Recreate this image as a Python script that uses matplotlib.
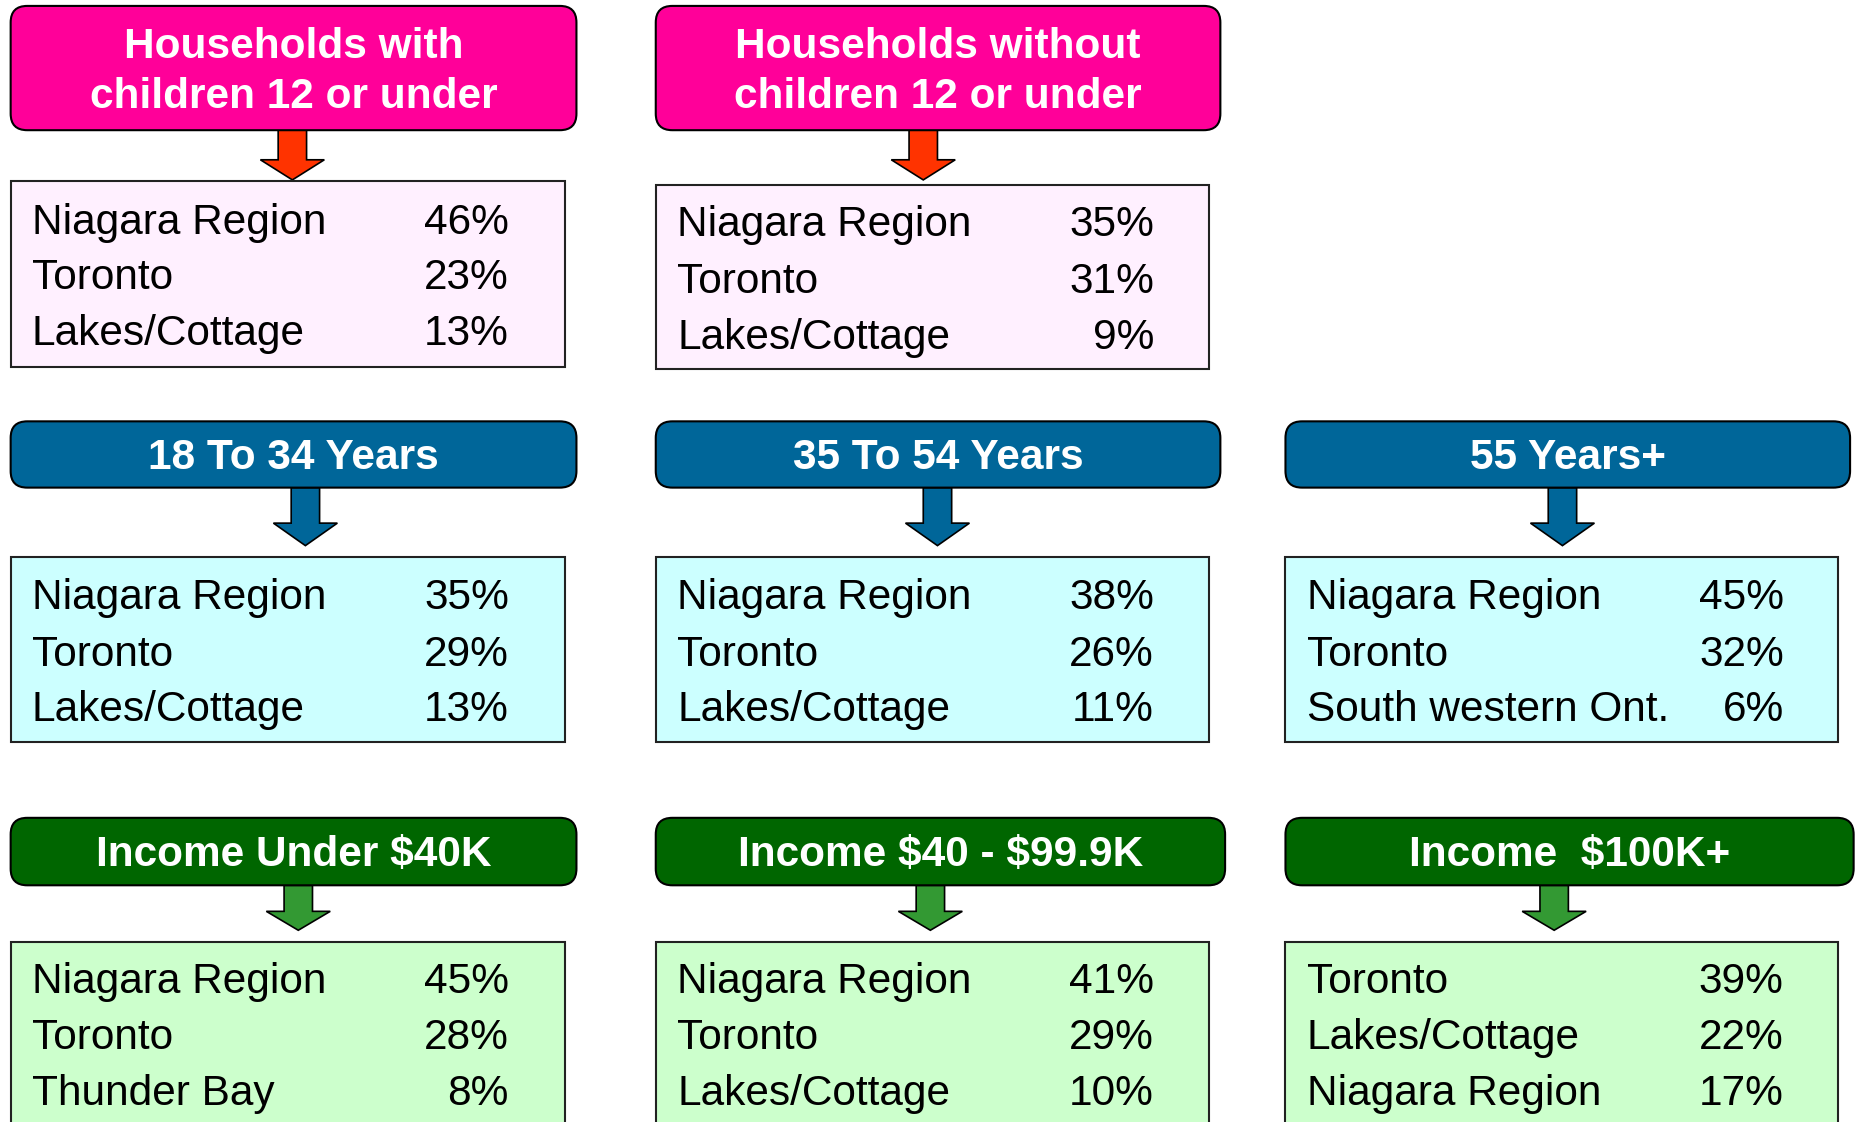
import matplotlib.pyplot as plt
from matplotlib.patches import FancyBboxPatch, Rectangle, Polygon

plt.rcParams['font.family'] = ['Liberation Sans', 'DejaVu Sans']
plt.rcParams['text.parse_math'] = False

# segments and their top 3 destinations
titles = ["Households with\nchildren 12 or under", "Households without\nchildren 12 or under",
          "18 To 34 Years", "35 To 54 Years", "55 Years+",
          "Income Under $40K", "Income $40 - $99.9K", "Income  $100K+"]
places = [["Niagara Region", "Toronto", "Lakes/Cottage"],
          ["Niagara Region", "Toronto", "Lakes/Cottage"],
          ["Niagara Region", "Toronto", "Lakes/Cottage"],
          ["Niagara Region", "Toronto", "Lakes/Cottage"],
          ["Niagara Region", "Toronto", "South western Ont."],
          ["Niagara Region", "Toronto", "Thunder Bay"],
          ["Niagara Region", "Toronto", "Lakes/Cottage"],
          ["Toronto", "Lakes/Cottage", "Niagara Region"]]
shares = [[46, 23, 13], [35, 31, 9],
          [35, 29, 13], [38, 26, 11], [45, 32, 6],
          [45, 28, 8], [41, 29, 10], [39, 22, 17]]

# layout (in the 1568 x 948 reference frame)
# x0, header (top, bottom, right), arrow (x, top, headstart, tip), content (top, bottom)
layout = [
    (9, 5, 110, 487, 247, 110, 135, 152, 153, 310),
    (554, 5, 110, 1031, 780, 110, 135, 152, 156, 312),
    (9, 356, 412, 487, 258, 412, 442, 461, 471, 627),
    (554, 356, 412, 1031, 792, 412, 442, 461, 471, 627),
    (1086, 356, 412, 1563, 1320, 412, 442, 461, 471, 627),
    (9, 691, 748, 487, 252, 748, 770, 786, 796, 960),
    (554, 691, 748, 1035, 786, 748, 770, 786, 796, 960),
    (1086, 691, 748, 1566, 1313, 748, 770, 786, 796, 960),
]
head_colors = ['#FF0099'] * 2 + ['#006699'] * 3 + ['#006600'] * 3
arrow_colors = ['#FF3300'] * 2 + ['#006699'] * 3 + ['#339933'] * 3
box_colors = ['#FFF0FF'] * 2 + ['#CCFFFF'] * 3 + ['#CCFFCC'] * 3
content_w = [468, 467, 468, 467, 467, 468, 467, 467]
row_y = [[186, 233, 280], [188, 236, 284]] + [[503, 551, 598]] * 3 + [[828, 875, 922]] * 3

fig = plt.figure(figsize=(18.56, 11.22), dpi=100)
ax = fig.add_axes([0, 0, 1, 1])
ax.set_xlim(0, 1568)
ax.set_ylim(948, 0)
ax.axis('off')

for i, title in enumerate(titles):
    x0, ht, hb, hr, ax_x, at, ah, tip, ct, cb = layout[i]
    hdr = FancyBboxPatch((x0, ht), hr - x0, hb - ht,
                         boxstyle="round,pad=0,rounding_size=14",
                         fc=head_colors[i], ec='black', lw=1.5, zorder=2)
    ax.add_patch(hdr)
    ax.text((x0 + hr) / 2, (ht + hb) / 2 + 3, title, color='white', fontsize=30.5,
            fontweight='bold', ha='center', va='center', linespacing=1.32, zorder=3)

    sw, hw = 12, 27
    arrow = Polygon([(ax_x - sw, at), (ax_x + sw, at), (ax_x + sw, ah), (ax_x + hw, ah),
                     (ax_x, tip), (ax_x - hw, ah), (ax_x - sw, ah)],
                    closed=True, fc=arrow_colors[i], ec='black', lw=1.2, zorder=1)
    ax.add_patch(arrow)

    ax.add_patch(Rectangle((x0, ct), content_w[i], cb - ct, fc=box_colors[i],
                           ec='#222222', lw=1.5, zorder=2))
    for j in range(3):
        ax.text(x0 + 18, row_y[i][j] + 2, places[i][j], fontsize=30.5, ha='left',
                va='center', zorder=3)
        ax.text(x0 + 421, row_y[i][j] + 2, f"{shares[i][j]}%", fontsize=30.5, ha='right',
                va='center', zorder=3)

fig.savefig('out.png', dpi=100, facecolor='white')
